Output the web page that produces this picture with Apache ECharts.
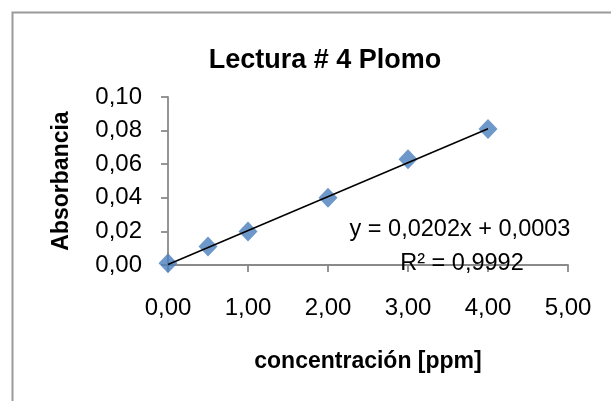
<!DOCTYPE html>
<html>
<head>
<meta charset="utf-8">
<script src="https://cdn.jsdelivr.net/npm/echarts@6/dist/echarts.min.js"></script>
<style>
  html, body { margin: 0; padding: 0; background: #ffffff; }
  #chart { width: 611px; height: 401px; }
</style>
</head>
<body>
<div id="chart"></div>
<script>
// Calibration readings: lead concentration vs. absorbance
const concentration = [0, 0.5, 1, 2, 3, 4];
const absorbance = [0.001, 0.011, 0.020, 0.040, 0.063, 0.081];

// Linear fit reported for the readings
const slope = 0.0202;
const intercept = 0.0003;
const rSquared = 0.9992;
const fitRange = [0, 4];

const titleText = 'Lectura # 4 Plomo';
const xName = 'concentración [ppm]';
const yName = 'Absorbancia';

const comma = (v, d) => v.toFixed(d).replace('.', ',');
const fitLine = fitRange.map(x => [x, slope * x + intercept]);
const eqText = 'y = ' + comma(slope, 4) + 'x + ' + comma(intercept, 4);
const r2Text = 'R\u00b2 = ' + comma(rSquared, 4);

const FONT = '"Liberation Sans", Arial, sans-serif';
const AXIS_GREY = '#8a8a8a';

const chart = echarts.init(document.getElementById('chart'), null, { renderer: 'canvas' });
chart.setOption({
  animation: false,
  backgroundColor: '#ffffff',
  textStyle: { fontFamily: FONT },
  grid: { left: 168, top: 97, right: 43, bottom: 136, containLabel: false },
  xAxis: {
    type: 'value', min: 0, max: 5, interval: 1,
    name: xName, nameLocation: 'middle', nameGap: 85,
    nameTextStyle: { fontFamily: FONT, fontSize: 23, fontWeight: 'bold', color: '#000' },
    axisLine: { show: true, onZero: false, lineStyle: { color: AXIS_GREY, width: 1.8 } },
    axisTick: { show: true, inside: false, length: 7, lineStyle: { color: AXIS_GREY, width: 1.8 } },
    axisLabel: { margin: 31, fontSize: 24, color: '#000', fontFamily: FONT, formatter: v => comma(v, 2) },
    splitLine: { show: false }
  },
  yAxis: {
    type: 'value', min: 0, max: 0.1, interval: 0.02,
    name: yName, nameLocation: 'middle', nameGap: 95, nameRotate: 90,
    nameTextStyle: { fontFamily: FONT, fontSize: 23, fontWeight: 'bold', color: '#000' },
    axisLine: { show: true, lineStyle: { color: AXIS_GREY, width: 1.8 } },
    axisTick: { show: true, inside: false, length: 7, lineStyle: { color: AXIS_GREY, width: 1.8 } },
    axisLabel: { margin: 26, fontSize: 24, color: '#000', fontFamily: FONT, formatter: v => comma(v, 2) },
    splitLine: { show: false }
  },
  series: [
    {
      type: 'scatter',
      data: concentration.map((x, i) => [x, absorbance[i]]),
      symbol: 'diamond',
      symbolSize: [19, 20],
      itemStyle: { color: '#4a7ebb' },
      z: 2
    },
    {
      type: 'line',
      data: fitLine,
      showSymbol: false,
      symbol: 'none',
      lineStyle: { color: '#000000', width: 1.5 },
      z: 3
    }
  ],
  graphic: [
    {
      type: 'rect', left: 10, top: 10, silent: true,
      shape: { width: 640, height: 430 },
      style: { fill: 'none', stroke: '#9a9a9a', lineWidth: 2 }
    },
    {
      type: 'text', x: 325, y: 61,
      style: { text: titleText, fontFamily: FONT, fontSize: 27, fontWeight: 'bold', fill: '#000', align: 'center', verticalAlign: 'middle' }
    },
    {
      type: 'text', x: 460, y: 230, z: 10,
      style: { text: eqText, fontFamily: FONT, fontSize: 23.5, fill: '#000', align: 'center', verticalAlign: 'middle' }
    },
    {
      type: 'text', x: 462, y: 264, z: 10,
      style: { text: r2Text, fontFamily: FONT, fontSize: 23.5, fill: '#000', align: 'center', verticalAlign: 'middle' }
    }
  ]
});
</script>
</body>
</html>
